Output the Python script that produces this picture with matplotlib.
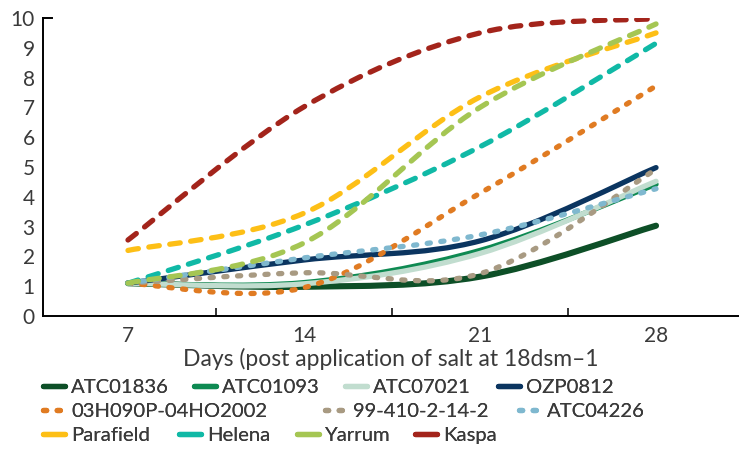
import matplotlib.pyplot as plt
import numpy as np
from matplotlib.path import Path
from matplotlib.patches import PathPatch
from matplotlib.lines import Line2D

# days after salt application
days = [7, 14, 21, 28]

# scores, one list per line
atc01836 = [1.1, 0.98, 1.32, 3.03]
atc01093 = [1.1, 1.12, 2.2, 4.42]
atc07021 = [1.1, 1.08, 2.1, 4.52]
ozp0812 = [1.1, 1.88, 2.52, 4.98]
h03h090p = [1.1, 0.95, 4.12, 7.72]
s99_410 = [1.1, 1.45, 1.42, 4.92]
atc04226 = [1.1, 1.95, 2.72, 4.27]
parafield = [2.2, 3.45, 7.35, 9.5]
helena = [1.1, 3.05, 5.68, 9.15]
yarrum = [1.1, 2.45, 7.0, 9.8]
kaspa = [2.55, 7.02, 9.5, 9.98]

names = ["ATC01836", "ATC01093", "ATC07021", "OZP0812",
         "03H090P-04HO2002", "99-410-2-14-2", "ATC04226",
         "Parafield", "Helena", "Yarrum", "Kaspa"]
series = [atc01836, atc01093, atc07021, ozp0812, h03h090p, s99_410, atc04226,
          parafield, helena, yarrum, kaspa]
colors = ["#0d4f27", "#0e8a52", "#c1ddcf", "#0b3560",
          "#e07b22", "#a89a82", "#7fb8cf",
          "#fdbf16", "#10b9a6", "#a5c653", "#a3241b"]
SOLID = "-"
DOTS = (0, (0.6, 2.0))
DASH = (0, (2.0, 2.0))
styles = [SOLID] * 4 + [DOTS] * 3 + [DASH] * 4
widths = [4.4] + [3.8] * 10

# legend label positions (pixels): x of the label text, y of the row
legend_x = [71, 222, 373, 526, 71, 353, 547, 71, 207, 325, 443]
legend_y = [387] * 4 + [411] * 3 + [435] * 4


def smooth_path(xs, ys):
    # excel-style smoothed line: cubic bezier through each point
    pts = np.column_stack([xs, ys]).astype(float)
    n = len(pts)
    verts = [pts[0]]
    codes = [Path.MOVETO]
    for i in range(n - 1):
        p_prev = pts[max(i - 1, 0)]
        p_next = pts[min(i + 2, n - 1)]
        c1 = pts[i] + (pts[i + 1] - p_prev) / 6
        c2 = pts[i + 1] - (p_next - pts[i]) / 6
        verts += [c1, c2, pts[i + 1]]
        codes += [Path.CURVE4] * 3
    return Path(verts, codes)


plt.rcParams['font.family'] = ['Lato', 'DejaVu Sans']
TEXT = "#3a3a3a"

fig = plt.figure(figsize=(7.39, 4.54), dpi=100)
ax = fig.add_axes([43 / 739, 1 - 316 / 454, 696 / 739, 298 / 454])

handles = []
for name, ys, col, ls, lw in zip(names, series, colors, styles, widths):
    patch = PathPatch(smooth_path(days, ys), fill=False, edgecolor=col, lw=lw,
                      linestyle=ls, capstyle='round', joinstyle='round')
    ax.add_patch(patch)
    # dashed series show a single dash in the legend
    handles.append(Line2D([], [], color=col, lw=3.8, linestyle=DOTS if ls == DOTS else SOLID,
                          solid_capstyle='round', dash_capstyle='round'))

ax.set_xlim(3.62, 31.3)
ax.set_ylim(0, 10)
ax.set_yticks(range(0, 11))
ax.set_xticks(days)
ax.set_xticks([10.5, 17.5, 24.5], minor=True)
ax.tick_params(axis='y', length=0, pad=6, labelsize=15, labelcolor=TEXT)
ax.tick_params(axis='x', which='major', length=0, pad=7, labelsize=15, labelcolor=TEXT)
ax.tick_params(axis='x', which='minor', direction='in', length=6, width=1.1)
for side in ['top', 'right']:
    ax.spines[side].set_visible(False)
for side in ['left', 'bottom']:
    ax.spines[side].set_linewidth(1.4)
# small cap at the top of the y axis
ax.plot([0, 0.013], [1, 1], transform=ax.transAxes, color='black', lw=1.4, clip_on=False)

fig.text(391 / 739, 1 - 359 / 454, "Days (post application of salt at 18dsm\u20131",
         ha='center', va='center', fontsize=16.5, color=TEXT)
# y axis title, mostly cut off at the top of the picture
fig.text(20 / 739, 1.03, "Salinity tolerance score (0\u201310)", ha='left', va='center',
         fontsize=15, color=TEXT)

# legend entries laid out one by one, flowing like the original
for h, name, tx, ty in zip(handles, names, legend_x, legend_y):
    leg = fig.legend([h], [name], loc='center left',
                     bbox_to_anchor=((tx - 28) / 739, 1 - ty / 454),
                     frameon=False, fontsize=14.6, handlelength=1.1, handletextpad=0.3,
                     borderpad=0, borderaxespad=0, labelcolor=TEXT)
    fig.add_artist(leg)

fig.savefig("out.png", dpi=100)
